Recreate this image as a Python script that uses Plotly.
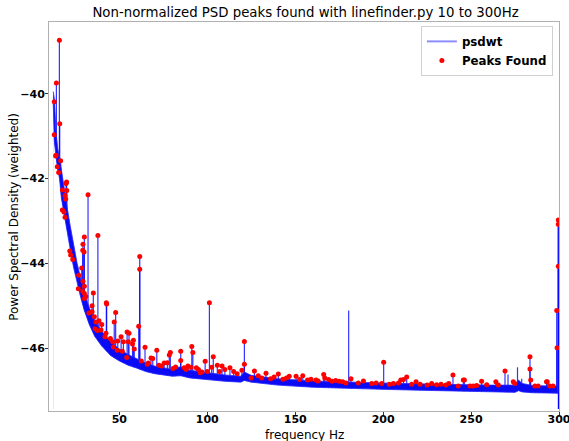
import plotly.graph_objects as go

# ---- data ----
band_freq = [12.4, 13.0, 14.0, 15.0, 16.0, 17.0, 18.0, 19.0, 20.0, 22.0, 24.0, 26.0, 28.0, 30.0,
             33.0, 36.0, 40.0, 45.0, 50.0, 55.0, 60.0, 65.0, 70.0, 80.0, 83.0, 85.0, 90.0, 100.0,
             110.0, 119.0, 121.0, 125.0, 140.0, 160.0, 180.0, 200.0, 220.0, 240.0, 260.0, 275.0,
             277.0, 279.0, 285.0, 295.0, 299.3]
band_low = [-40.20, -41.10, -41.50, -41.80, -42.00, -42.45, -42.70, -42.95, -43.20, -43.65, -44.10,
            -44.45, -44.80, -45.10, -45.45, -45.72, -45.95, -46.17, -46.30, -46.40, -46.47, -46.55,
            -46.60, -46.66, -46.66, -46.65, -46.70, -46.74, -46.78, -46.80, -46.76, -46.80, -46.87,
            -46.92, -46.95, -46.97, -46.99, -47.01, -47.03, -47.04, -47.00, -47.03, -47.05, -47.06,
            -47.06]
band_high = [-39.95, -40.10, -40.90, -41.30, -41.50, -41.80, -42.10, -42.30, -42.60, -43.10, -43.60,
             -44.00, -44.35, -44.70, -45.05, -45.35, -45.60, -45.85, -46.02, -46.15, -46.25, -46.35,
             -46.42, -46.50, -46.45, -46.44, -46.52, -46.58, -46.63, -46.66, -46.56, -46.64, -46.72,
             -46.77, -46.80, -46.82, -46.84, -46.86, -46.87, -46.87, -46.75, -46.83, -46.88, -46.89,
             -46.89]

peak_freq = [13.0, 13.0, 13.8, 14.0, 14.2, 14.7, 15.5, 15.9, 16.1, 16.6, 17.6, 17.6, 18.5, 19.1,
             19.1, 19.5, 19.7, 20.0, 20.1, 21.8, 22.3, 23.5, 26.7, 26.9, 28.6, 29.2, 29.3, 29.3,
             29.2, 29.9, 30.1, 30.1, 30.1, 30.1, 30.9, 32.2, 32.7, 34.5, 34.5, 35.2, 35.8, 36.2,
             36.7, 37.5, 37.8, 38.4, 39.6, 40.0, 41.8, 42.4, 42.6, 42.8, 44.9, 46.2, 46.6, 47.1,
             47.9, 48.8, 49.1, 51.0, 51.7, 52.3, 54.2, 54.4, 55.1, 55.5, 57.5, 58.0, 58.5, 61.0,
             61.6, 61.6, 62.5, 64.6, 65.9, 66.5, 68.0, 69.0, 71.3, 72.5, 74.0, 75.5, 77.3, 78.4,
             79.0, 80.5, 82.0, 84.9, 84.9, 86.9, 88.0, 89.0, 90.6, 91.2, 91.8, 93.8, 95.0, 96.0,
             97.0, 98.8, 100.0, 101.2, 102.5, 103.4, 105.7, 107.0, 108.4, 110.0, 112.9, 115.0,
             117.0, 119.7, 121.1, 121.1, 124.9, 126.8, 129.0, 131.0, 133.4, 136.0, 138.0, 140.4,
             143.0, 145.0, 146.6, 150.5, 152.5, 154.3, 157.0, 159.0, 161.8, 163.0, 166.2, 166.8,
             169.0, 171.0, 173.0, 175.1, 177.0, 178.9, 181.7, 185.9, 188.8, 193.5, 196.0, 199.2,
             200.3, 203.5, 205.8, 208.7, 210.0, 211.6, 213.4, 216.2, 218.7, 221.0, 225.0, 227.6,
             230.4, 232.9, 235.7, 237.3, 239.7, 242.7, 245.6, 246.2, 249.4, 251.3, 253.2, 256.0,
             258.9, 264.1, 265.5, 269.3, 274.0, 274.9, 283.5, 283.5, 283.9, 286.3, 288.1, 292.9,
             293.3, 294.7, 296.6, 298.7, 298.9, 299.6, 299.6, 299.6]
peak_psd = [-40.19, -40.97, -41.47, -41.45, -39.75, -41.72, -41.86, -38.74, -40.71, -41.58, -42.27,
            -42.74, -42.79, -42.40, -42.91, -42.48, -42.12, -42.08, -42.28, -43.71, -43.80, -43.91,
            -44.60, -44.28, -44.11, -43.69, -43.55, -44.42, -44.66, -43.73, -43.38, -44.54, -44.71,
            -44.83, -44.78, -42.38, -45.17, -45.00, -45.14, -44.70, -45.26, -45.54, -45.38, -45.58,
            -43.34, -45.35, -45.57, -45.44, -45.73, -45.65, -44.93, -44.96, -45.77, -45.85, -45.97,
            -45.38, -45.16, -46.05, -45.83, -45.73, -46.07, -45.85, -46.22, -45.62, -45.85, -45.65,
            -45.90, -45.81, -46.02, -45.48, -43.84, -44.14, -46.30, -45.98, -46.38, -46.35, -46.23,
            -46.24, -46.05, -46.40, -46.42, -46.35, -46.34, -46.16, -46.10, -46.48, -46.44, -46.07,
            -46.29, -46.46, -46.50, -46.42, -46.45, -45.96, -46.10, -46.46, -46.50, -46.58, -46.56,
            -46.31, -46.55, -44.93, -46.45, -46.20, -46.40, -46.55, -46.42, -46.50, -46.46, -46.55,
            -46.60, -46.52, -45.84, -46.38, -46.70, -46.54, -46.65, -46.70, -46.59, -46.72, -46.68,
            -46.61, -46.73, -46.70, -46.66, -46.66, -46.74, -46.65, -46.75, -46.73, -46.75, -46.77,
            -46.62, -46.70, -46.74, -46.78, -46.76, -46.78, -46.79, -46.82, -46.72, -46.82, -46.77,
            -46.83, -46.82, -46.83, -46.33, -46.85, -46.83, -46.82, -46.75, -46.74, -46.68, -46.85,
            -46.79, -46.85, -46.87, -46.83, -46.86, -46.85, -46.87, -46.83, -46.63, -46.89, -46.75,
            -46.75, -46.89, -46.89, -46.88, -46.78, -46.86, -46.79, -46.87, -46.54, -46.79, -46.83,
            -46.20, -46.49, -46.75, -46.89, -46.89, -46.79, -46.79, -46.89, -46.89, -45.11, -45.99,
            -42.98, -43.08, -44.07]

# spikes in the psd line that have no peak marker
spike_freq = [180.4, 271.0, 276.4, 278.8]
spike_psd = [-45.11, -46.62, -46.45, -46.72]

x_range = [10, 300]
y_range = [-47.48, -38.31]
x_ticks = [50, 100, 150, 200, 250, 300]
y_ticks = [-46, -44, -42, -40]

# ---- build figure ----
line_col = "rgba(0,0,255,0.8)"
sx, sy = [], []
for f, v in list(zip(peak_freq, peak_psd)) + list(zip(spike_freq, spike_psd)):
    sx += [f, f, None]
    sy += [v, y_range[0] + 0.05, None]

fig = go.Figure()
# vertical excursions of the psd line
fig.add_trace(go.Scatter(x=sx, y=sy, mode="lines", line=dict(color=line_col, width=1.2),
                         showlegend=False, hoverinfo="skip"))
# blank area beneath the psd noise floor
fig.add_trace(go.Scatter(x=band_freq + [band_freq[-1], band_freq[0]],
                         y=band_low + [y_range[0] - 0.2, y_range[0] - 0.2],
                         fill="toself", fillcolor="white", line=dict(width=0),
                         mode="lines", showlegend=False, hoverinfo="skip"))
# dense psd noise floor
fig.add_trace(go.Scatter(x=band_freq + band_freq[::-1], y=band_high + band_low[::-1],
                         fill="toself", fillcolor="rgb(10,10,245)",
                         line=dict(color="rgba(40,40,255,0.8)", width=1.0),
                         mode="lines", showlegend=False, hoverinfo="skip"))
# legend entry for the line
fig.add_trace(go.Scatter(x=[None], y=[None], mode="lines", name="psdwt",
                         line=dict(color="rgba(0,0,255,0.45)", width=2)))
fig.add_trace(go.Scatter(x=peak_freq, y=peak_psd, mode="markers", name="Peaks Found",
                         marker=dict(color="red", size=5, line=dict(width=0))))

tickfont = dict(family="DejaVu Sans", size=11, color="black", weight="bold")
axis_common = dict(showgrid=False, zeroline=False, showline=True, linecolor="#b0b0b0",
                   linewidth=1, mirror=True, ticks="outside", ticklen=3, tickcolor="#333",
                   tickfont=tickfont, ticklabeloverflow="allow", automargin=False)
label_font = dict(family="DejaVu Sans", size=12, color="black")
fig.update_layout(
    width=569, height=441, autosize=False,
    margin=dict(l=49, r=10, t=22, b=30),
    paper_bgcolor="white", plot_bgcolor="white",
    title=dict(text="Non-normalized PSD peaks found with linefinder.py 10 to 300Hz",
               x=0.537, xanchor="center", y=0.972, yanchor="middle",
               font=dict(family="DejaVu Sans", size=13.3, color="black")),
    xaxis=dict(range=x_range, tickvals=x_ticks, ticklabelstandoff=-5, **axis_common),
    yaxis=dict(range=y_range, tickvals=y_ticks, ticklabelstandoff=-2, **axis_common),
    legend=dict(x=0.988, y=0.99, xanchor="right", yanchor="top",
                bgcolor="rgba(255,255,255,0.85)", bordercolor="#d0d0d0", borderwidth=1,
                font=dict(family="DejaVu Sans", size=11.8, color="black", weight="bold"),
                itemwidth=30, tracegroupgap=0),
    showlegend=True,
    annotations=[
        dict(text="frequency Hz", xref="paper", yref="paper", x=0.5, y=-0.061,
             xanchor="center", yanchor="middle", showarrow=False, font=label_font),
        dict(text="Power Spectral Density (weighted)", xref="paper", yref="paper",
             x=-0.07, y=0.5, xanchor="center", yanchor="middle", textangle=-90,
             showarrow=False, font=label_font),
    ],
)
fig.write_html("out.html",
               config={"displayModeBar": False, "responsive": False},
               post_script="document.body.style.margin='0px';"
                           "document.body.style.overflow='hidden';"
                           "document.documentElement.style.overflow='hidden';")
